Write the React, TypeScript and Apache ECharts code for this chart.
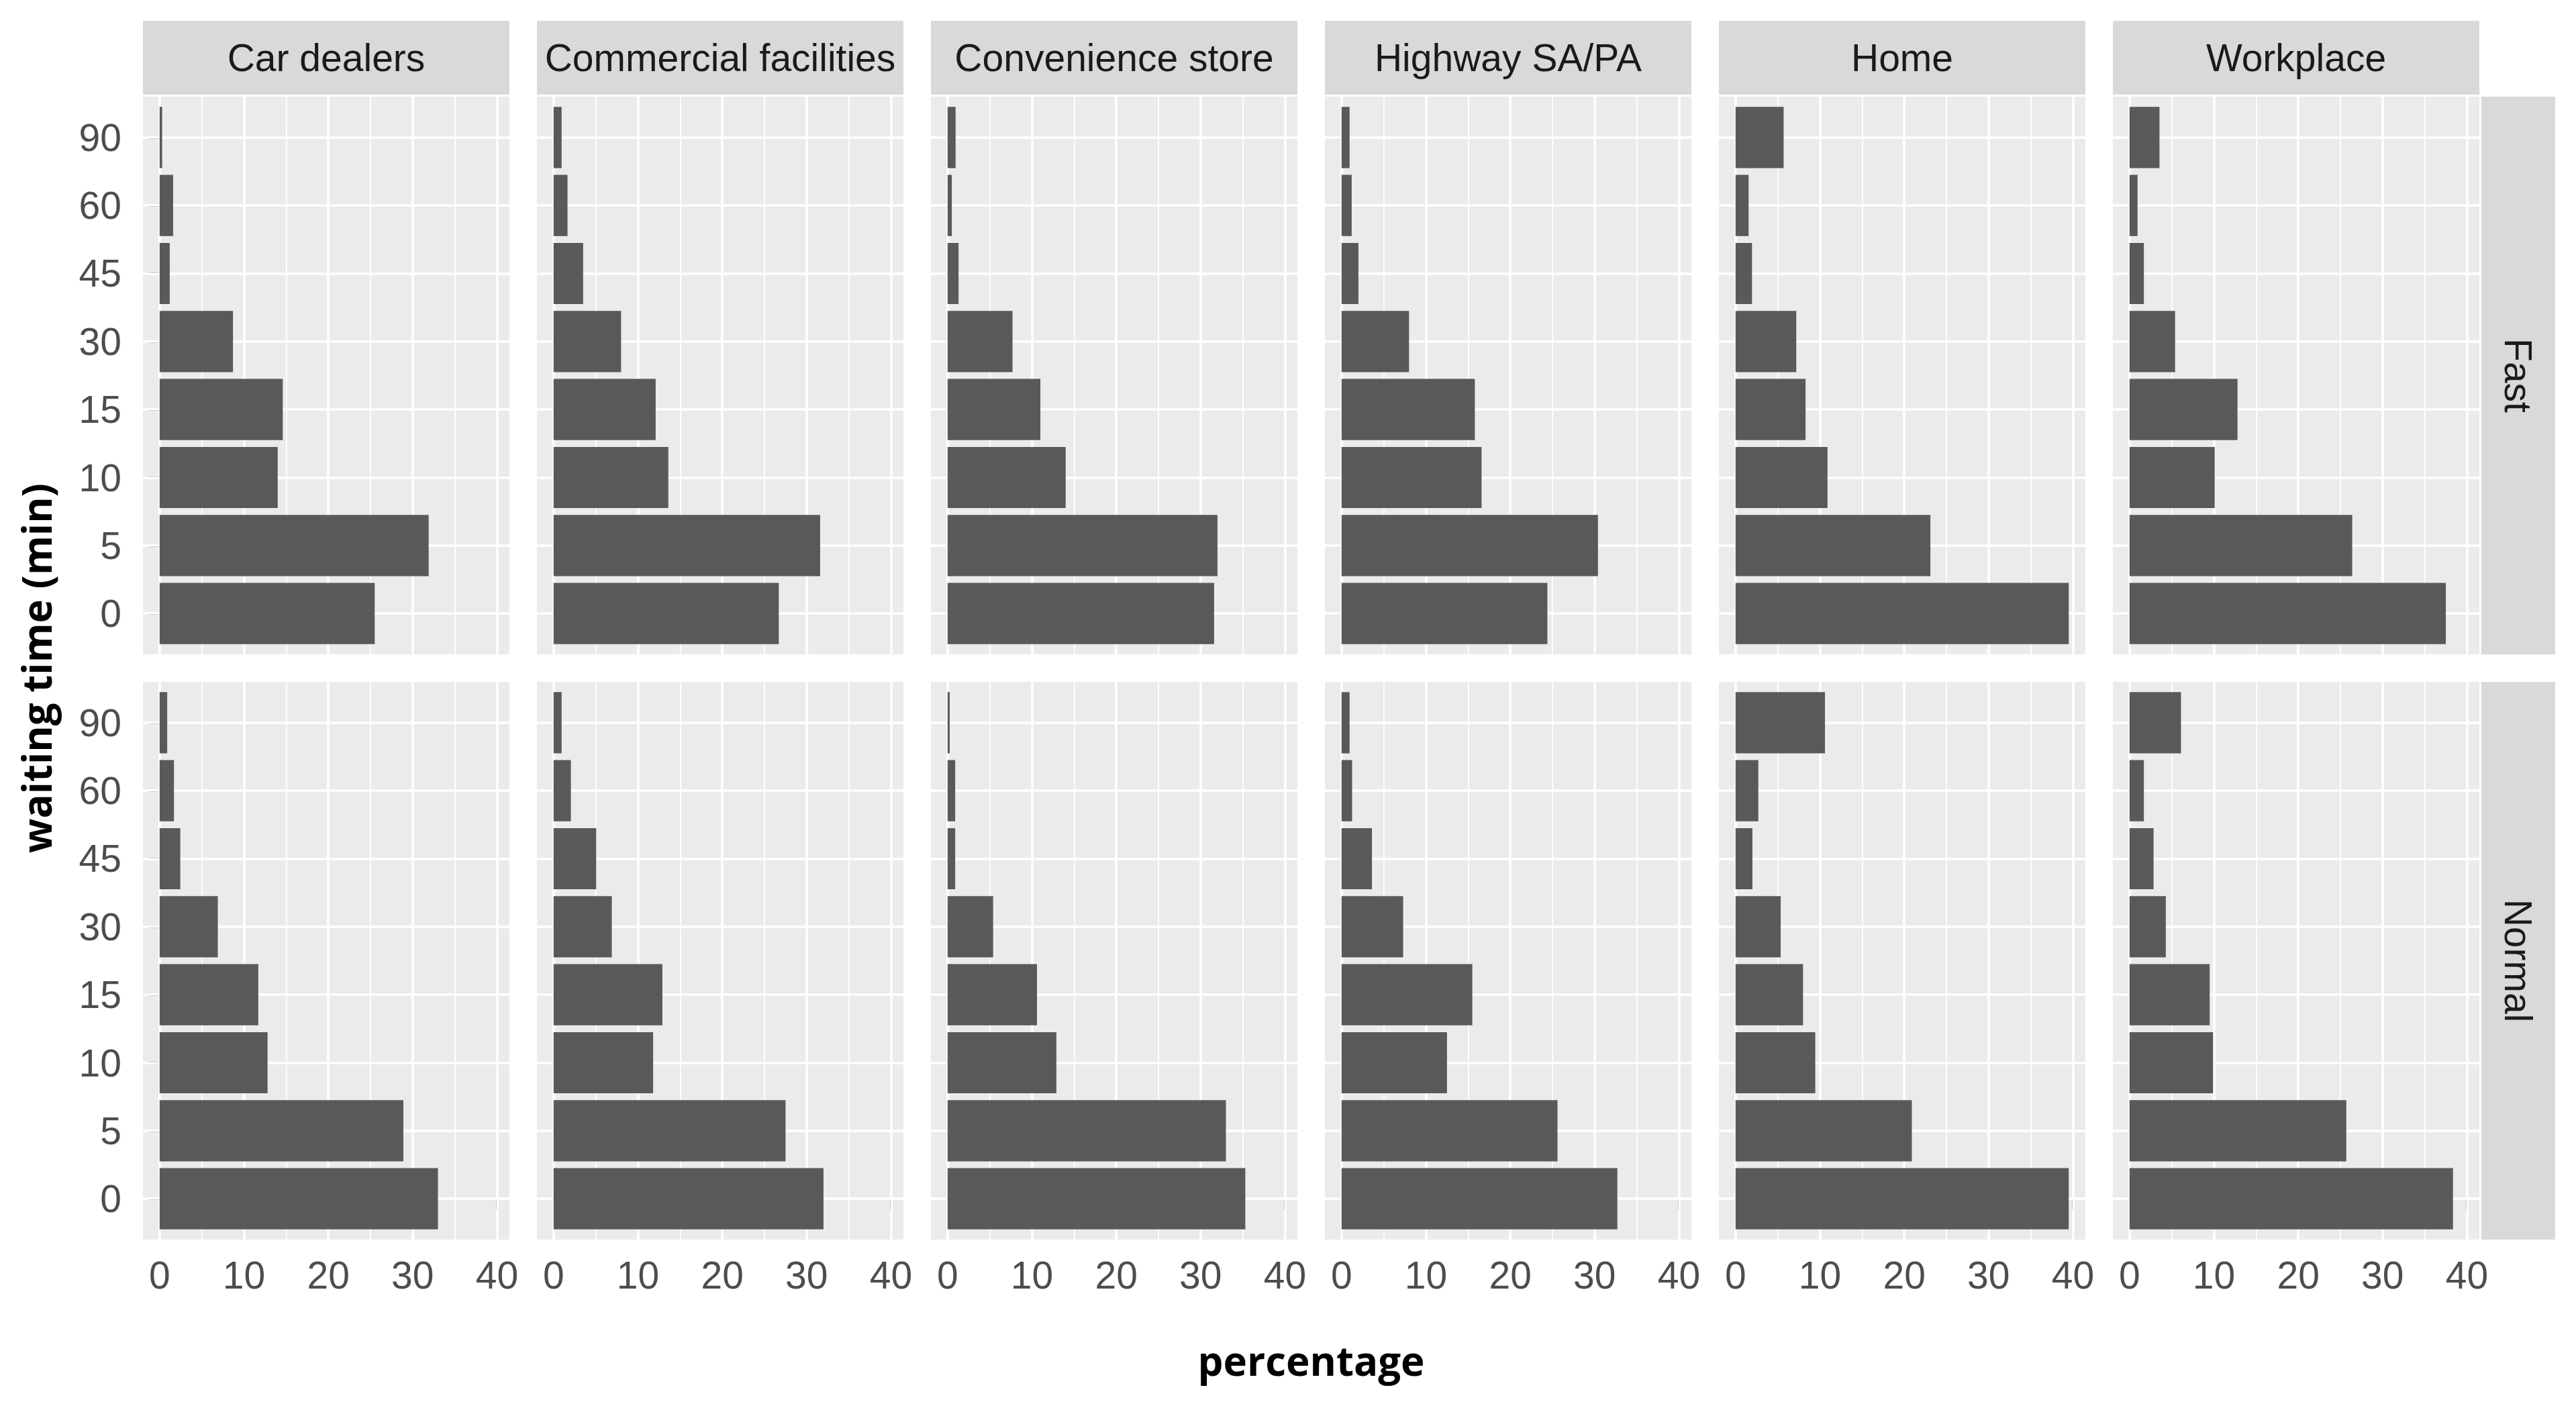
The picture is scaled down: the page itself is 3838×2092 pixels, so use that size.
import React, { useEffect, useRef } from "react";
import * as echarts from "echarts";

// ---------- data ----------
const waitingTimes = ["0", "5", "10", "15", "30", "45", "60", "90"];
const locations = [
  "Car dealers",
  "Commercial facilities",
  "Convenience store",
  "Highway SA/PA",
  "Home",
  "Workplace",
];
const speeds = ["Fast", "Normal"];
const xTickValues = [0, 10, 20, 30, 40];
const xMinorValues = [5, 15, 25, 35];

// values in order of waitingTimes (0,5,10,15,30,45,60,90)
const carDealersFast = [25.5, 31.9, 14.0, 14.6, 8.7, 1.2, 1.6, 0.3];
const commercialFast = [26.7, 31.6, 13.6, 12.1, 8.0, 3.5, 1.65, 0.95];
const convenienceFast = [31.6, 32.0, 14.0, 11.0, 7.7, 1.3, 0.5, 0.95];
const highwayFast = [24.4, 30.4, 16.6, 15.8, 8.0, 2.0, 1.2, 0.95];
const homeFast = [39.5, 23.1, 10.9, 8.3, 7.2, 1.95, 1.55, 5.7];
const workplaceFast = [37.5, 26.4, 10.1, 12.8, 5.4, 1.7, 0.95, 3.55];

const carDealersNormal = [33.0, 28.9, 12.8, 11.7, 6.9, 2.45, 1.7, 0.9];
const commercialNormal = [32.0, 27.5, 11.8, 12.9, 6.9, 5.05, 2.05, 0.95];
const convenienceNormal = [35.3, 33.0, 12.9, 10.6, 5.4, 0.9, 0.9, 0.25];
const highwayNormal = [32.7, 25.6, 12.5, 15.5, 7.3, 3.6, 1.25, 0.95];
const homeNormal = [39.5, 20.9, 9.45, 8.0, 5.35, 2.0, 2.7, 10.6];
const workplaceNormal = [38.35, 25.7, 9.9, 9.5, 4.3, 2.85, 1.7, 6.1];

const fastRows = [carDealersFast, commercialFast, convenienceFast, highwayFast, homeFast, workplaceFast];
const normalRows = [carDealersNormal, commercialNormal, convenienceNormal, highwayNormal, homeNormal, workplaceNormal];
const panelValues = [fastRows, normalRows];

// ---------- layout ----------
const W = 3838;
const H = 2092;
const PANEL_LEFT = 213;
const PANEL_W = 546;
const GAP_X = 41;
const PANEL_TOP = 144;
const PANEL_H = 831;
const GAP_Y = 41;
const STRIP_H = 110;
const STRIP_PAD = 3;
const X_MIN = -1.975;
const X_MAX = 41.475;
const Y_MIN = -0.6;
const Y_MAX = 7.6;
const FONT = '"Liberation Sans", Arial, sans-serif';
const TICK_FONT = 57;

function buildOption() {
  const grids: any[] = [];
  const xAxes: any[] = [];
  const yAxes: any[] = [];
  const series: any[] = [];
  const graphics: any[] = [];
  const yIdx = waitingTimes.map((_, i) => i);

  speeds.forEach((speed, r) => {
    locations.forEach((loc, c) => {
      const gi = r * locations.length + c;
      const left = PANEL_LEFT + c * (PANEL_W + GAP_X);
      const top = PANEL_TOP + r * (PANEL_H + GAP_Y);
      grids.push({
        left,
        top,
        width: PANEL_W,
        height: PANEL_H,
        show: true,
        backgroundColor: "#EBEBEB",
        borderWidth: 0,
        containLabel: false,
        outerBoundsMode: "none",
      });
      xAxes.push({
        gridIndex: gi,
        type: "value",
        min: X_MIN,
        max: X_MAX,
        axisLine: { show: false },
        splitLine: { show: false },
        axisTick: {
          show: r === speeds.length - 1,
          customValues: xTickValues,
          length: 16,
          lineStyle: { color: "#333333", width: 3 },
        },
        axisLabel: {
          show: r === speeds.length - 1,
          customValues: xTickValues,
          fontSize: TICK_FONT,
          fontFamily: FONT,
          color: "#4D4D4D",
          margin: 24,
        },
      });
      yAxes.push({
        gridIndex: gi,
        type: "value",
        min: Y_MIN,
        max: Y_MAX,
        axisLine: { show: false },
        splitLine: { show: false },
        axisTick: {
          show: c === 0,
          customValues: yIdx,
          length: 16,
          lineStyle: { color: "#333333", width: 3 },
        },
        axisLabel: {
          show: c === 0,
          customValues: yIdx,
          formatter: (v: number) => waitingTimes[Math.round(v)] ?? "",
          fontSize: TICK_FONT,
          fontFamily: FONT,
          color: "#4D4D4D",
          margin: 32,
        },
      });
      const vals = panelValues[r][c];
      series.push({
        type: "custom",
        name: `${loc} ${speed}`,
        xAxisIndex: gi,
        yAxisIndex: gi,
        z: 3,
        data: vals.map((v, i) => [v, i]),
        encode: { x: 0, y: 1 },
        renderItem: (_params: any, api: any) => {
          const v = api.value(0);
          const idx = api.value(1);
          const p0 = api.coord([0, idx]);
          const p1 = api.coord([v, idx]);
          const h = api.size([0, 0.9])[1];
          return {
            type: "rect",
            shape: { x: p0[0], y: p0[1] - h / 2, width: p1[0] - p0[0], height: h },
            style: { fill: "#595959" },
          };
        },
        markLine: {
          silent: true,
          z: 1,
          animation: false,
          symbol: ["none", "none"],
          label: { show: false },
          emphasis: { disabled: true },
          lineStyle: { color: "#FFFFFF", type: "solid", opacity: 1 },
          data: [
            ...xMinorValues.map((v) => ({ xAxis: v, lineStyle: { color: "#FFFFFF", width: 1.8, type: "solid" } })),
            ...xTickValues.map((v) => ({ xAxis: v, lineStyle: { color: "#FFFFFF", width: 3.5, type: "solid" } })),
            ...yIdx.map((v) => ({ yAxis: v, lineStyle: { color: "#FFFFFF", width: 3.5, type: "solid" } })),
          ],
        },
      });

      // top strips
      if (r === 0) {
        graphics.push({
          type: "rect",
          shape: { x: left, y: PANEL_TOP - STRIP_PAD - STRIP_H, width: PANEL_W, height: STRIP_H },
          style: { fill: "#D9D9D9" },
        });
        graphics.push({
          type: "text",
          x: left + PANEL_W / 2,
          y: PANEL_TOP - STRIP_PAD - STRIP_H / 2,
          style: {
            text: loc,
            fontSize: TICK_FONT,
            fontFamily: FONT,
            fill: "#1A1A1A",
            textAlign: "center",
            textVerticalAlign: "middle",
          },
        });
      }
    });
    // right strips
    const top = PANEL_TOP + r * (PANEL_H + GAP_Y);
    const stripX = PANEL_LEFT + locations.length * PANEL_W + (locations.length - 1) * GAP_X + STRIP_PAD;
    graphics.push({
      type: "rect",
      shape: { x: stripX, y: top, width: STRIP_H, height: PANEL_H },
      style: { fill: "#D9D9D9" },
    });
    graphics.push({
      type: "text",
      x: stripX + STRIP_H / 2,
      y: top + PANEL_H / 2,
      rotation: -Math.PI / 2,
      style: {
        text: speed,
        fontSize: TICK_FONT,
        fontFamily: FONT,
        fill: "#1A1A1A",
        textAlign: "center",
        textVerticalAlign: "middle",
      },
    });
  });

  const panelsRight = PANEL_LEFT + locations.length * PANEL_W + (locations.length - 1) * GAP_X;
  const panelsBottom = PANEL_TOP + speeds.length * PANEL_H + (speeds.length - 1) * GAP_Y;
  graphics.push({
    type: "text",
    x: (PANEL_LEFT + panelsRight) / 2,
    y: 2027,
    style: {
      text: "percentage",
      fontSize: 60,
      fontWeight: "bold",
      fontFamily: '"Open Sans", sans-serif',
      fill: "#000000",
      textAlign: "center",
      textVerticalAlign: "middle",
    },
  });
  graphics.push({
    type: "text",
    x: 54,
    y: (PANEL_TOP + panelsBottom) / 2,
    rotation: Math.PI / 2,
    style: {
      text: "waiting time (min)",
      fontSize: 60,
      fontWeight: "bold",
      fontFamily: '"Open Sans", sans-serif',
      fill: "#000000",
      textAlign: "center",
      textVerticalAlign: "middle",
    },
  });

  return {
    animation: false,
    backgroundColor: "#FFFFFF",
    grid: grids,
    xAxis: xAxes,
    yAxis: yAxes,
    series,
    graphic: { elements: graphics },
  };
}

export default function App() {
  const ref = useRef<HTMLDivElement>(null);
  useEffect(() => {
    document.body.style.margin = "0";
    const chart = echarts.init(ref.current as HTMLDivElement, undefined, {
      renderer: "svg",
      width: W,
      height: H,
    });
    chart.setOption(buildOption() as any);
    return () => {
      chart.dispose();
    };
  }, []);
  return (
    <div
      ref={ref}
      style={{ width: W, height: H, position: "absolute", left: 0, top: 0, background: "#FFFFFF" }}
    />
  );
}
